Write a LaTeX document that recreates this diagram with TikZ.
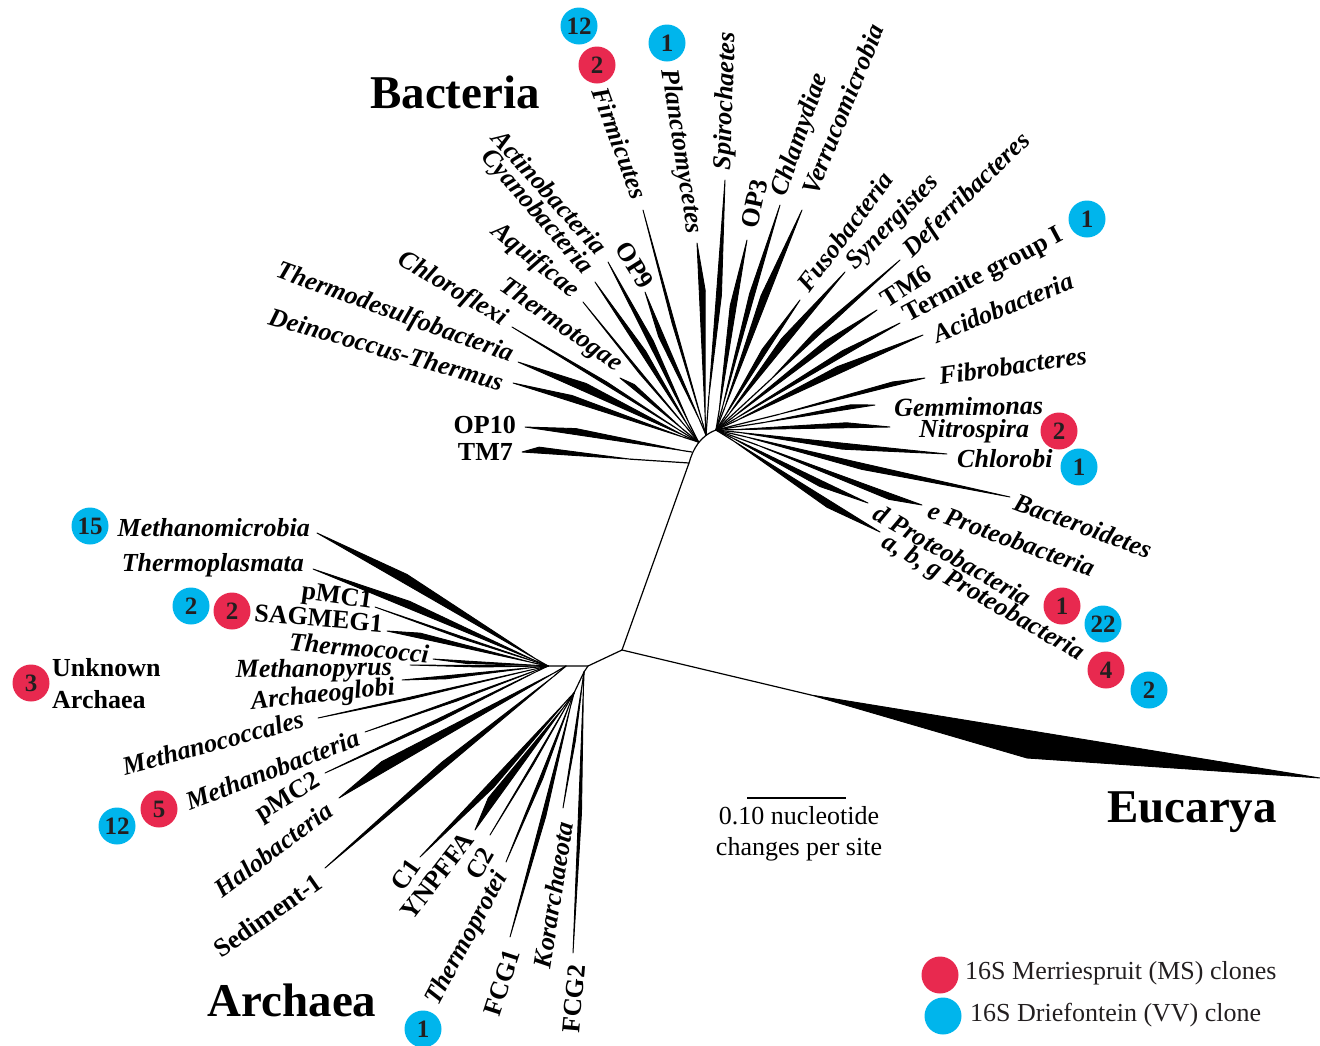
\documentclass[tikz,border=0pt]{standalone}
\usepackage{fontspec}
\setmainfont{Liberation Serif}
\usetikzlibrary{calc}
\definecolor{msred}{HTML}{E8294F}
\definecolor{vvblue}{HTML}{00B5EC}
\definecolor{numtext}{HTML}{231F20}

\tikzset{
  branch/.style={line width=1.2pt, line cap=round},
  wedge/.style={fill=black, draw=black, line width=0.9pt, line join=round},
  lab/.style={font=\fontsize{26}{28}\selectfont\bfseries\itshape, inner sep=2pt},
  labr/.style={font=\fontsize{26}{28}\selectfont\bfseries, inner sep=2pt},
  big/.style={font=\fontsize{47}{50}\selectfont\bfseries},
  redbub/.style={circle, fill=msred, minimum size=37pt, inner sep=0pt,
    font=\fontsize{25}{25}\selectfont\bfseries, text=numtext},
  bluebub/.style={redbub, fill=vvblue},
}

% clade: hub, tip, start of wedge, widest point (fractions), half width
\newcommand\clade[5]{%
  \path ($(#1)!#3!(#2)$) coordinate (#2-a)
        ($(#1)!#4!(#2)$) coordinate (#2-m);
  \path ($(#2-m)!#5!90:(#2)$) coordinate (#2-w);
  \draw[branch] (#1) -- (#2-a);
  \filldraw[wedge] (#2-a) -- (#2-w) -- (#2) -- cycle;}

\begin{document}
\begin{tikzpicture}[x=1pt,y=-1pt]
\useasboundingbox (0,0) rectangle (1320,1045);

% internal nodes of the tree
\coordinate (N1) at (622,650);
\coordinate (N2) at (689,463);
\coordinate (H10) at (692,452);
\coordinate (HL) at (698.5,442);
\coordinate (HM) at (706,435);
\coordinate (HR) at (716,430);
\coordinate (N3) at (588,666);
\coordinate (A1) at (548,666);
\coordinate (A1b) at (566,666);
\coordinate (A2) at (584,672);
\coordinate (A3) at (574,693);

\draw[branch] (N1) -- (N2) .. controls (693,449) and (700,436) .. (HR);
\draw[branch] (N1) -- (N3) -- (A1);
\draw[branch] (N3) -- (A2) -- (A3);

% Eucarya
\coordinate (eA) at (811,695);
\coordinate (eS) at (1027,758);
\coordinate (eT) at (1320,778);
\draw[branch] (N1) -- (eA);
\filldraw[wedge] (eA) -- (eS) -- (eT) -- cycle;

% Bacteria tips
\coordinate (tTM7) at (522,452);
\coordinate (tOP10) at (525,427);
\coordinate (tDein) at (513,383);
\coordinate (tTdsb) at (518,362);
\coordinate (tChfx) at (512,327);
\coordinate (tTtog) at (620,378);
\coordinate (tAqui) at (583,302);
\coordinate (tCyan) at (595,282);
\coordinate (tActi) at (608,262);
\coordinate (tOPn) at (645,292);
\coordinate (tFirm) at (643,210);
\coordinate (tPlan) at (697,243);
\coordinate (tSpir) at (725,180);
\coordinate (tOPt) at (747,240);
\coordinate (tChla) at (780,205);
\coordinate (tVerr) at (802,210);
\coordinate (tFuso) at (800,300);
\coordinate (tSyne) at (845,272);
\coordinate (tDefe) at (900,260);
\coordinate (tTMs) at (877,310);
\coordinate (tTerm) at (900,323);
\coordinate (tAcid) at (923,335);
\coordinate (tFibr) at (925,378);
\coordinate (tGemm) at (875,405);
\coordinate (tNitr) at (890,427);
\coordinate (tChlb) at (947,454);
\coordinate (tBact) at (1010,497);
\coordinate (tEpro) at (922,505);
\coordinate (tDpro) at (868,503);
\coordinate (tABG) at (880,532);

\clade{N2}{tTM7}{.35}{.9}{-6pt}
\clade{H10}{tOP10}{.05}{.7}{-6pt}
\clade{HL}{tDein}{.08}{.69}{-6pt}
\clade{HL}{tTdsb}{.08}{.64}{-8pt}
\clade{HL}{tChfx}{.1}{.5}{-3pt}
\clade{HL}{tTtog}{.2}{.85}{-4pt}
\clade{HL}{tAqui}{.1}{.5}{2pt}
\clade{HL}{tCyan}{.1}{.55}{-5pt}
\clade{HL}{tActi}{.1}{.55}{-5pt}
\clade{HM}{tOPn}{.1}{.7}{5pt}
\clade{HM}{tFirm}{.05}{.5}{2.5pt}
\clade{HM}{tPlan}{.1}{.75}{-6pt}
\clade{HM}{tSpir}{.15}{.55}{-5pt}
\clade{HR}{tOPt}{.1}{.65}{6pt}
\clade{HR}{tChla}{.1}{.6}{5pt}
\clade{HR}{tVerr}{.1}{.6}{7pt}
\clade{HR}{tFuso}{.1}{.6}{5pt}
\clade{HR}{tSyne}{.1}{.55}{7pt}
\clade{HR}{tDefe}{.3}{.55}{5pt}
\clade{HR}{tTMs}{.1}{.7}{6pt}
\clade{HR}{tTerm}{.1}{.7}{5pt}
\clade{HR}{tAcid}{.1}{.6}{7pt}
\clade{HR}{tFibr}{.3}{.85}{4pt}
\clade{HR}{tGemm}{.3}{.85}{4pt}
\clade{HR}{tNitr}{.1}{.75}{5pt}
\clade{HR}{tChlb}{.1}{.55}{-6pt}
\clade{HR}{tBact}{.1}{.5}{-6pt}
\clade{HR}{tEpro}{.2}{.85}{-6pt}
\clade{HR}{tDpro}{.1}{.7}{-6pt}
\clade{HR}{tABG}{.1}{.7}{-7pt}

% Archaea tips
\coordinate (tMmic) at (317,533);
\coordinate (tTpla) at (313,569);
\coordinate (tPMCa) at (375,607);
\coordinate (tSAG) at (387,631);
\coordinate (tTcoc) at (433,659);
\coordinate (tMpyr) at (410,665);
\coordinate (tArgl) at (402,680);
\coordinate (tMcoc) at (318,718);
\coordinate (tMbac) at (365,732);
\coordinate (tPMCb) at (325,773);
\coordinate (tHalo) at (339,798);
\coordinate (tSed) at (325,868);
\coordinate (tCa) at (420,857);
\coordinate (tYNP) at (475,830);
\coordinate (tCb) at (490,835);
\coordinate (tTpro) at (506,862);
\coordinate (tFCGa) at (510,937);
\coordinate (tKora) at (563,808);
\coordinate (tFCGb) at (573,953);

\clade{A1}{tMmic}{.05}{.63}{-9pt}
\clade{A1}{tTpla}{.05}{.6}{-7pt}
\clade{A1}{tPMCa}{.05}{.5}{2pt}
\clade{A1}{tSAG}{.1}{.8}{-5pt}
\clade{A1}{tTcoc}{.1}{.7}{2.5pt}
\clade{A1}{tMpyr}{0}{.5}{1.5pt}
\clade{A1}{tArgl}{.1}{.7}{3pt}
\clade{A1}{tMcoc}{.05}{.6}{2pt}
\clade{A1}{tMbac}{.05}{.5}{2pt}
\clade{A1}{tPMCb}{.05}{.5}{3pt}
\clade{A1b}{tHalo}{.05}{.79}{-10pt}
\clade{A1b}{tSed}{.05}{.5}{-6pt}
\clade{A3}{tCa}{.05}{.55}{6pt}
\clade{A3}{tYNP}{.1}{.8}{-8pt}
\clade{A3}{tCb}{.05}{.5}{1.5pt}
\clade{A3}{tTpro}{.05}{.5}{3pt}
\clade{A3}{tFCGa}{.05}{.5}{4pt}
\clade{A2}{tKora}{.05}{.5}{2pt}
\clade{A2}{tFCGb}{.05}{.5}{3pt}

% Bacteria labels
\node[lab, anchor=east, rotate=-70] (lFirm) at (641,200) {Firmicutes};
\node[lab, anchor=east, rotate=-81] (lPlan) at (694,236) {Planctomycetes};
\node[lab, anchor=east, rotate=-48] (lActi) at (604,252) {Actinobacteria};
\node[lab, anchor=east, rotate=-49] (lCyan) at (589,273) {Cyanobacteria};
\node[labr, anchor=east, rotate=-58] (lOPn) at (649,288) {OP9};
\node[lab, anchor=east, rotate=-39] (lAqui) at (577,295) {Aquificae};
\node[lab, anchor=east, rotate=-35] (lTtog) at (621,368) {Thermotogae};
\node[lab, anchor=east, rotate=-31] (lChfx) at (507,322) {Chloroflexi};
\node[lab, anchor=east, rotate=-20] (lTdsb) at (514,357) {Thermodesulfobacteria};
\node[lab, anchor=east, rotate=-16] (lDein) at (505,383) {Deinococcus-Thermus};
\node[labr, anchor=east] (lOP10) at (518,425) {OP10};
\node[labr, anchor=east] (lTM7) at (515,452) {TM7};

\node[lab, anchor=west, rotate=88] (lSpir) at (724,172) {Spirochaetes};
\node[labr, anchor=west, rotate=78] (lOPt) at (749,230) {OP3};
\node[lab, anchor=west, rotate=71] (lChla) at (779,198) {Chlamydiae};
\node[lab, anchor=west, rotate=68] (lVerr) at (808,195) {Verrucomicrobia};
\node[lab, anchor=west, rotate=53] (lFuso) at (801,290) {Fusobacteria};
\node[lab, anchor=west, rotate=46] (lSyne) at (849,268) {Synergistes};
\node[lab, anchor=west, rotate=44] (lDefe) at (906,255) {Deferribacteres};
\node[labr, anchor=west, rotate=32] (lTMs) at (881,302) {TM6};
\node[labr, anchor=west, rotate=28] (lTerm) at (904,318) {Termite group I};
\node[lab, anchor=west, rotate=22] (lAcid) at (932,336) {Acidobacteria};
\node[lab, anchor=west, rotate=8] (lFibr) at (937,376) {Fibrobacteres};
\node[lab, anchor=west, rotate=1] (lGemm) at (892,408) {Gemmimonas};
\node[lab, anchor=west] (lNitr) at (917,431) {Nitrospira};
\node[lab, anchor=west] (lChlb) at (955,459) {Chlorobi};
\node[lab, anchor=west, rotate=-20] (lBact) at (1013,500) {Bacteroidetes};
\node[lab, anchor=west, rotate=-20] (lEpro) at (927,508) {e Proteobacteria};
\node[lab, anchor=west, rotate=-30] (lDpro) at (874,510) {d Proteobacteria};
\node[lab, anchor=west, rotate=-30] (lABG) at (882,540) {a, b, g Proteobacteria};

% Archaea labels
\node[lab, anchor=east] (lMmic) at (312,528) {Methanomicrobia};
\node[lab, anchor=east] (lTpla) at (306,565) {Thermoplasmata};
\node[labr, anchor=east, rotate=-8] (lPMCa) at (374,603) {pMC1};
\node[labr, anchor=east, rotate=-5] (lSAG) at (385,624) {SAGMEG1};
\node[lab, anchor=east, rotate=-5] (lTcoc) at (431,654) {Thermococci};
\node[lab, anchor=east, rotate=1] (lMpyr) at (394,669) {Methanopyrus};
\node[lab, anchor=east, rotate=6] (lArgl) at (397,688) {Archaeoglobi};
\node[lab, anchor=east, rotate=15] (lMcoc) at (305,718) {Methanococcales};
\node[lab, anchor=east, rotate=21] (lMbac) at (360,736) {Methanobacteria};
\node[labr, anchor=east, rotate=31] (lPMCb) at (321,779) {pMC2};
\node[lab, anchor=east, rotate=37] (lHalo) at (331,806) {Halobacteria};
\node[labr, anchor=east, rotate=35] (lSed) at (321,878) {Sediment-1};
\node[labr, anchor=east, rotate=55] (lCa) at (416,860) {C1};
\node[labr, anchor=east, rotate=52] (lYNP) at (470,834) {YNPFFA};
\node[labr, anchor=east, rotate=60] (lCb) at (489,848) {C2};
\node[lab, anchor=east, rotate=62] (lTpro) at (503,872) {Thermoprotei};
\node[labr, anchor=east, rotate=72] (lFCGa) at (513,948) {FCG1};
\node[lab, anchor=east, rotate=81] (lKora) at (565,820) {Korarchaeota};
\node[labr, anchor=east, rotate=85] (lFCGb) at (577,963) {FCG2};
\node[labr, anchor=west, align=left, font=\fontsize{26}{32}\selectfont\bfseries] (lUnk) at (50,684) {Unknown\\Archaea};

% domain names
\node[big] (dBac) at (455,92) {Bacteria};
\node[big] (dArc) at (292,1000) {Archaea};
\node[big] (dEuc) at (1192,812) {Eucarya};

% clone counts
\node[bluebub] (b1) at (579,26) {12};
\node[redbub] (b2) at (597,65) {2};
\node[bluebub] (b3) at (667,43) {1};
\node[bluebub] (b4) at (1087,219) {1};
\node[redbub] (b5) at (1059,431) {2};
\node[bluebub] (b6) at (1079,467) {1};
\node[redbub] (b7) at (1062,606) {1};
\node[bluebub] (b8) at (1103,624) {22};
\node[redbub] (b9) at (1106,670) {4};
\node[bluebub] (b10) at (1149,690) {2};
\node[bluebub] (b11) at (90,526) {15};
\node[bluebub] (b12) at (191,606) {2};
\node[redbub] (b13) at (232,611) {2};
\node[redbub] (b14) at (31,683) {3};
\node[redbub] (b15) at (159,809) {5};
\node[bluebub] (b16) at (117,826) {12};
\node[bluebub] (b17) at (423,1029) {1};

% scale bar
\coordinate (sb1) at (747,798);
\coordinate (sb2) at (846,798);
\draw[branch, line cap=butt] (sb1) -- (sb2);
\node[font=\fontsize{26}{31}\selectfont, align=center] (sbl) at (799,834) {0.10 nucleotide\\changes per site};

% legend
\node[redbub] (kr) at (940,975) {};
\node[bluebub] (kb) at (943,1016) {};
\node[font=\fontsize{26}{28}\selectfont, anchor=west, inner sep=0pt, text=numtext] (krt) at (965,973) {16S Merriespruit (MS) clones};
\node[font=\fontsize{26}{28}\selectfont, anchor=west, inner sep=0pt, text=numtext] (kbt) at (970,1015) {16S Driefontein (VV) clone};
\end{tikzpicture}
\end{document}
